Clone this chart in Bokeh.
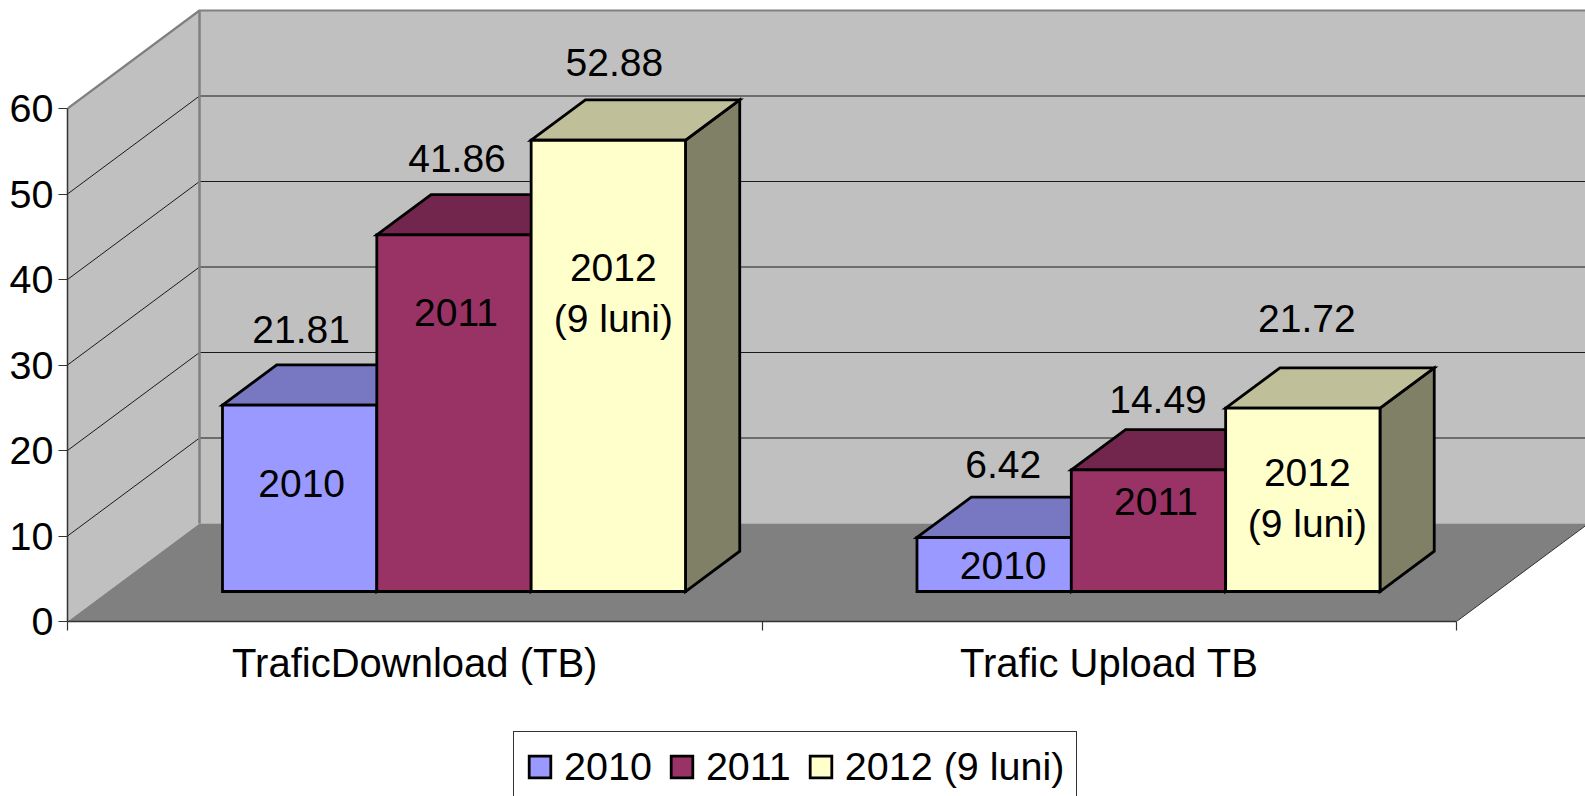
from bokeh.plotting import figure
from bokeh.layouts import column
from bokeh.models import FixedTicker, Legend, LegendItem, ColumnDataSource
from bokeh.core.properties import value
from bokeh.embed import file_html
from bokeh.resources import INLINE

categories = ["TraficDownload (TB)", "Trafic Upload TB"]
series_names = ["2010", "2011", "2012 (9 luni)"]
bar_names = ["2010", "2011", "2012\n(9 luni)"]
heights_2010 = [21.8, 6.32]
heights_2011 = [41.72, 14.23]
heights_2012 = [52.78, 21.44]
labels_2010 = ["21.81", "6.42"]
labels_2011 = ["41.86", "14.49"]
labels_2012 = ["52.88", "21.72"]
y_ticks = [0, 10, 20, 30, 40, 50, 60]

front_colors = ["#9999FF", "#993366", "#FFFFCC"]
top_colors = ["#7777C2", "#73264D", "#BFBF99"]
side_colors = ["#4D4D80", "#4D1A33", "#808066"]

FONT = "Liberation Sans"
SIZE = "39px"
UNIT_X = 694.5            # px per category
UNIT_Y = 8.55             # px per value unit
DEPTH_X = 132 / UNIT_X    # wall depth in category units
DEPTH_Y = 98 / UNIT_Y     # wall depth in value units
Z0, Z1 = 0.306, 0.717     # bar depth extent
GAP, BAR = 0.165, 2 / 9
W, H, L, FH = 1585, 729, 67, 621
YMAX = 60
NCAT = len(categories)


def proj(u, v, z):
    return u + z * DEPTH_X, v + z * DEPTH_Y


def poly(corners):
    pts = [proj(*c) for c in corners]
    return [q[0] for q in pts], [q[1] for q in pts]


p = figure(width=W, height=H, x_range=(0, (W - L) / UNIT_X), y_range=(0, FH / UNIT_Y),
           output_backend="svg", toolbar_location=None, min_border_left=L, min_border_right=0,
           min_border_top=0, min_border_bottom=H - FH, outline_line_color=None,
           background_fill_color="white", border_fill_color="white")
p.grid.visible = False

# walls and floor
xs, ys = poly([(0, 0, 0), (0, 0, 1), (0, YMAX, 1), (0, YMAX, 0)])
p.patch(xs, ys, fill_color="#C0C0C0", line_color=None)
xs, ys = poly([(0, 0, 1), (NCAT, 0, 1), (NCAT, YMAX, 1), (0, YMAX, 1)])
p.patch(xs, ys, fill_color="#C0C0C0", line_color=None)
xs, ys = poly([(0, 0, 0), (NCAT, 0, 0), (NCAT, 0, 1), (0, 0, 1)])
p.patch(xs, ys, fill_color="#808080", line_color=None)

# gridlines on the walls
for t in y_ticks[1:-1]:
    xs, ys = poly([(0, t, 0), (0, t, 1), (NCAT, t, 1)])
    p.line(xs, ys, line_color="#1A1A1A", line_width=1)

# wall edges
xs, ys = poly([(0, YMAX, 0), (0, YMAX, 1), (NCAT, YMAX, 1)])
p.line(xs, ys, line_color="#808080", line_width=2.2)
xs, ys = poly([(0, 0, 1), (0, YMAX, 1)])
p.line(xs, ys, line_color="#808080", line_width=2.5)
xs, ys = poly([(NCAT, 0, 0), (NCAT, 0, 1)])
p.line(xs, ys, line_color="#333333", line_width=1)

# bars
all_heights = [heights_2010, heights_2011, heights_2012]
common = dict(line_color="black", line_width=2.8, line_join="miter")
for s, heights in enumerate(all_heights):
    top_xs, top_ys, side_xs, side_ys, front_xs, front_ys = [], [], [], [], [], []
    for c, h in enumerate(heights):
        a = c + GAP + s * BAR
        b = a + BAR
        x, y = poly([(b, 0, Z0), (b, 0, Z1), (b, h, Z1), (b, h, Z0)])
        side_xs.append(x); side_ys.append(y)
        x, y = poly([(a, h, Z0), (a, h, Z1), (b, h, Z1), (b, h, Z0)])
        top_xs.append(x); top_ys.append(y)
        x, y = poly([(a, 0, Z0), (b, 0, Z0), (b, h, Z0), (a, h, Z0)])
        front_xs.append(x); front_ys.append(y)
    p.patches(side_xs, side_ys, fill_color=side_colors[s], **common)
    p.patches(top_xs, top_ys, fill_color=top_colors[s], **common)
    p.patches(front_xs, front_ys, fill_color=front_colors[s], **common)

# value labels above and series labels inside the bars (hand-placed in the original)
value_labels = [labels_2010, labels_2011, labels_2012]
value_dx = [[1.5, 9], [3, 9.5], [6, 4]]
value_dy = [[-76, -73], [-76, -70], [-78, -90]]
name_dx = [[2, 9], [2, 7.5], [5, 4.5]]
name_dy = [[78, 28], [78, 32], [153, 90]]
for s, heights in enumerate(all_heights):
    tx, ty, tt, dx, dy, nx, ny, nt, ndx, ndy = [], [], [], [], [], [], [], [], [], []
    for c, h in enumerate(heights):
        mid = c + GAP + (s + 0.5) * BAR
        x, y = proj(mid, h, Z0)
        tx.append(x); ty.append(y); tt.append(value_labels[s][c])
        dx.append(value_dx[s][c]); dy.append(value_dy[s][c])
        nx.append(x); ny.append(y); nt.append(bar_names[s])
        ndx.append(name_dx[s][c]); ndy.append(name_dy[s][c])
    src = ColumnDataSource(dict(x=tx, y=ty, t=tt, dx=dx, dy=dy))
    p.text("x", "y", text="t", x_offset="dx", y_offset="dy", source=src,
           text_font=value(FONT), text_font_size=SIZE, text_color="black",
           text_align="center", text_baseline="middle")
    src2 = ColumnDataSource(dict(x=nx, y=ny, t=nt, dx=ndx, dy=ndy))
    p.text("x", "y", text="t", x_offset="dx", y_offset="dy", source=src2,
           text_font=value(FONT), text_font_size=SIZE, text_color="black",
           text_align="center", text_baseline="middle", text_line_height=1.18)

# axes
ya = p.yaxis[0]
ya.ticker = FixedTicker(ticks=y_ticks)
ya.bounds = (0, YMAX)
ya.axis_line_color = "#333333"
ya.axis_line_width = 1.5
ya.major_tick_line_color = "#333333"
ya.major_tick_line_width = 1.2
ya.major_tick_in = 0
ya.major_tick_out = 9
ya.minor_tick_line_color = None
ya.major_label_standoff = 5
ya.major_label_text_font = FONT
ya.major_label_text_font_size = "39.5px"
ya.major_label_text_color = "black"

xa = p.xaxis[0]
xa.ticker = FixedTicker(ticks=[i + 0.5 for i in range(NCAT)], minor_ticks=list(range(NCAT + 1)))
xa.major_label_overrides = {i + 0.5: c for i, c in enumerate(categories)}
xa.bounds = (0, NCAT)
xa.axis_line_color = "#333333"
xa.axis_line_width = 1.5
xa.major_tick_line_color = None
xa.major_tick_in = 0
xa.major_tick_out = 9
xa.minor_tick_line_color = "#333333"
xa.minor_tick_line_width = 1.2
xa.minor_tick_in = 0
xa.minor_tick_out = 9
xa.major_label_standoff = 10
xa.major_label_text_font = FONT
xa.major_label_text_font_size = "40px"
xa.major_label_text_color = "black"

# legend in its own strip, so that it may run off the bottom of the page as in the reference
q = figure(width=W, height=796 - H, x_range=(0, 1), y_range=(0, 1), output_backend="svg",
           toolbar_location=None, min_border=0, outline_line_color=None,
           x_axis_location=None, y_axis_location=None)
q.grid.visible = False
items = []
for s, name in enumerate(series_names):
    # swatch carriers: the data lie outside the strip's range, only the legend shows them
    r = q.quad(left=[2], right=[3], top=[1], bottom=[0], fill_color=front_colors[s], **common)
    items.append(LegendItem(label=name, renderers=[r]))
legend = Legend(items=items, orientation="horizontal", location=(446, -6),
                padding=12, spacing=16, margin=0, label_standoff=11,
                glyph_width=27, glyph_height=27,
                label_text_font=FONT, label_text_font_size="39.5px", label_text_color="black",
                border_line_color="#333333", border_line_width=1.5, border_line_alpha=1,
                background_fill_color="white", background_fill_alpha=1)
q.add_layout(legend, "center")

open("out.html", "w").write(file_html(column(p, q, spacing=0), INLINE))
